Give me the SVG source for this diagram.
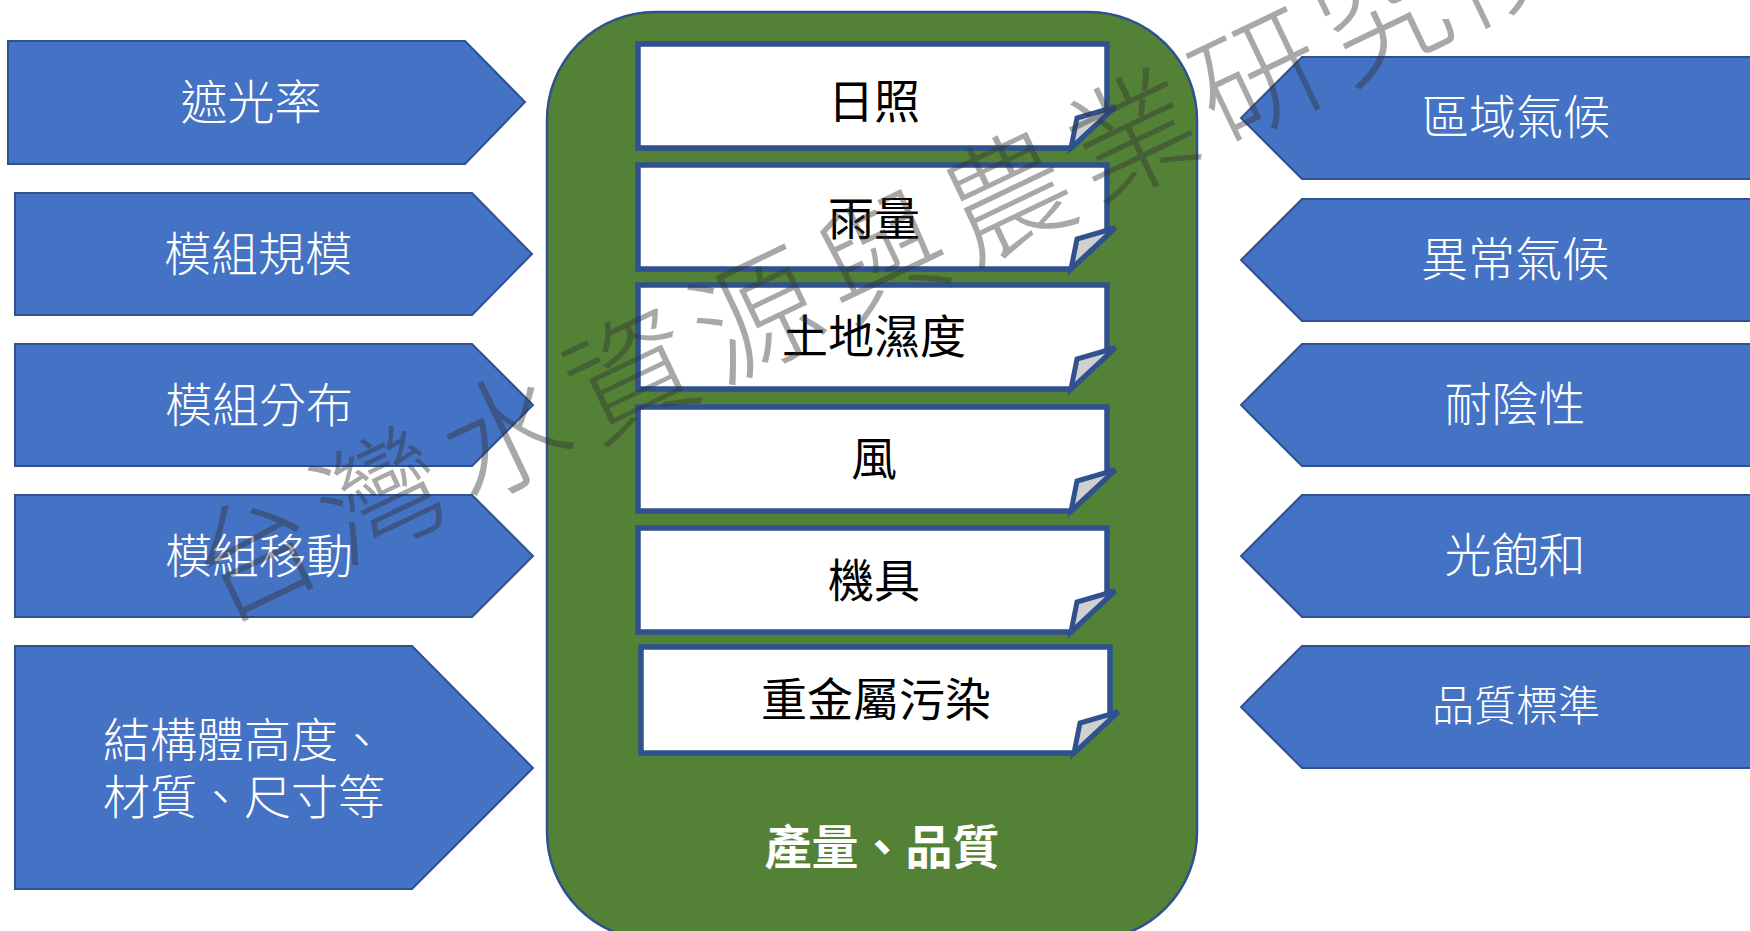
<svg xmlns="http://www.w3.org/2000/svg" width="1750" height="931" viewBox="0 0 1750 931">
<defs>
<style>
.arrow{fill:#4472C4;stroke:#2F528F;stroke-width:2;}
.atxt{font-family:"Noto Sans CJK TC","Noto Sans CJK SC",sans-serif;font-size:47px;fill:#FFFFFF;font-weight:300;dominant-baseline:central;text-anchor:middle;}
.card{fill:#FFFFFF;stroke:#2F528F;stroke-width:5.5;stroke-linejoin:miter;}
.flap{fill:#D0D0D0;stroke:#2F528F;stroke-width:5;stroke-linejoin:miter;}
.ctxt{font-family:"Noto Sans CJK TC","Noto Sans CJK SC",sans-serif;font-size:46px;fill:#000000;dominant-baseline:central;text-anchor:middle;}
.wm{font-family:"Noto Sans CJK TC","Noto Sans CJK SC",sans-serif;font-size:126px;fill:#333333;opacity:0.42;font-weight:300;dominant-baseline:central;text-anchor:middle;letter-spacing:13px;}
</style>
</defs>
<rect width="1750" height="931" fill="#FFFFFF"/>

<g id="container">
<rect x="547" y="12" width="650" height="928" rx="108" ry="108" fill="#538135" stroke="#2F528F" stroke-width="2.5"/>
<text x="882" y="843" style="font-family:'Noto Sans CJK TC','Noto Sans CJK SC',sans-serif;font-size:47px;font-weight:bold;fill:#FFFFFF;dominant-baseline:central;text-anchor:middle;">產量、品質</text>
</g>

<g id="left-arrows">
<g id="l1"><path class="arrow" d="M8,41 H465 L525,102 L465,164 H8 Z"/><text class="atxt" x="251" y="98">遮光率</text></g>
<g id="l2"><path class="arrow" d="M15,193 H472 L532,254 L472,315 H15 Z"/><text class="atxt" x="258" y="250">模組規模</text></g>
<g id="l3"><path class="arrow" d="M15,344 H472 L533,405 L472,466 H15 Z"/><text class="atxt" x="259" y="401">模組分布</text></g>
<g id="l4"><path class="arrow" d="M15,495 H472 L533,556 L472,617 H15 Z"/><text class="atxt" x="259" y="552">模組移動</text></g>
<g id="l5"><path class="arrow" d="M15,646 H412 L533,768 L412,889 H15 Z"/>
<text class="atxt" x="103" y="736" style="text-anchor:start">結構體高度、</text>
<text class="atxt" x="103" y="793" style="text-anchor:start">材質、尺寸等</text></g>
</g>

<g id="right-arrows">
<g id="r1"><path class="arrow" d="M1760,57 H1302 L1241,118 L1302,179 H1760 Z"/><text class="atxt" x="1516" y="113">區域氣候</text></g>
<g id="r2"><path class="arrow" d="M1760,199 H1302 L1241,260 L1302,321 H1760 Z"/><text class="atxt" x="1515" y="255">異常氣候</text></g>
<g id="r3"><path class="arrow" d="M1760,344 H1302 L1241,405 L1302,466 H1760 Z"/><text class="atxt" x="1515" y="400">耐陰性</text></g>
<g id="r4"><path class="arrow" d="M1760,495 H1302 L1241,556 L1302,617 H1760 Z"/><text class="atxt" x="1515" y="551">光飽和</text></g>
<g id="r5"><path class="arrow" d="M1760,646 H1302 L1241,707 L1302,768 H1760 Z"/><text class="atxt" x="1516" y="702" style="font-size:42px">品質標準</text></g>
</g>

<g id="cards">
<g id="c1"><path class="card" d="M638,44 H1107 V109 L1115,107 L1071,148 H638 Z"/><path class="flap" d="M1115,107 L1077,118 L1071,148 Z"/><text class="ctxt" x="874" y="98">日照</text></g>
<g id="c2"><path class="card" d="M638,165 H1107 V230 L1115,228 L1071,269 H638 Z"/><path class="flap" d="M1115,228 L1077,239 L1071,269 Z"/><text class="ctxt" x="874" y="215">雨量</text></g>
<g id="c3"><path class="card" d="M638,285 H1107 V350 L1115,348 L1071,389 H638 Z"/><path class="flap" d="M1115,348 L1077,359 L1071,389 Z"/><text class="ctxt" x="874" y="333">土地濕度</text></g>
<g id="c4"><path class="card" d="M638,407 H1107 V472 L1115,470 L1071,511 H638 Z"/><path class="flap" d="M1115,470 L1077,481 L1071,511 Z"/><text class="ctxt" x="874" y="455">風</text></g>
<g id="c5"><path class="card" d="M638,528 H1107 V593 L1115,591 L1071,632 H638 Z"/><path class="flap" d="M1115,591 L1077,602 L1071,632 Z"/><text class="ctxt" x="874" y="577">機具</text></g>
<g id="c6"><path class="card" d="M641,647 H1110 V714 L1118,712 L1074,753 H641 Z"/><path class="flap" d="M1118,712 L1080,723 L1074,753 Z"/><text class="ctxt" x="876" y="696">重金屬污染</text></g>
</g>

<g id="connectors"></g>

<g id="watermark">
<text class="wm" x="884" y="245" transform="rotate(-25.5 884 245)">台灣水資源與農業研究院</text>
</g>
</svg>
